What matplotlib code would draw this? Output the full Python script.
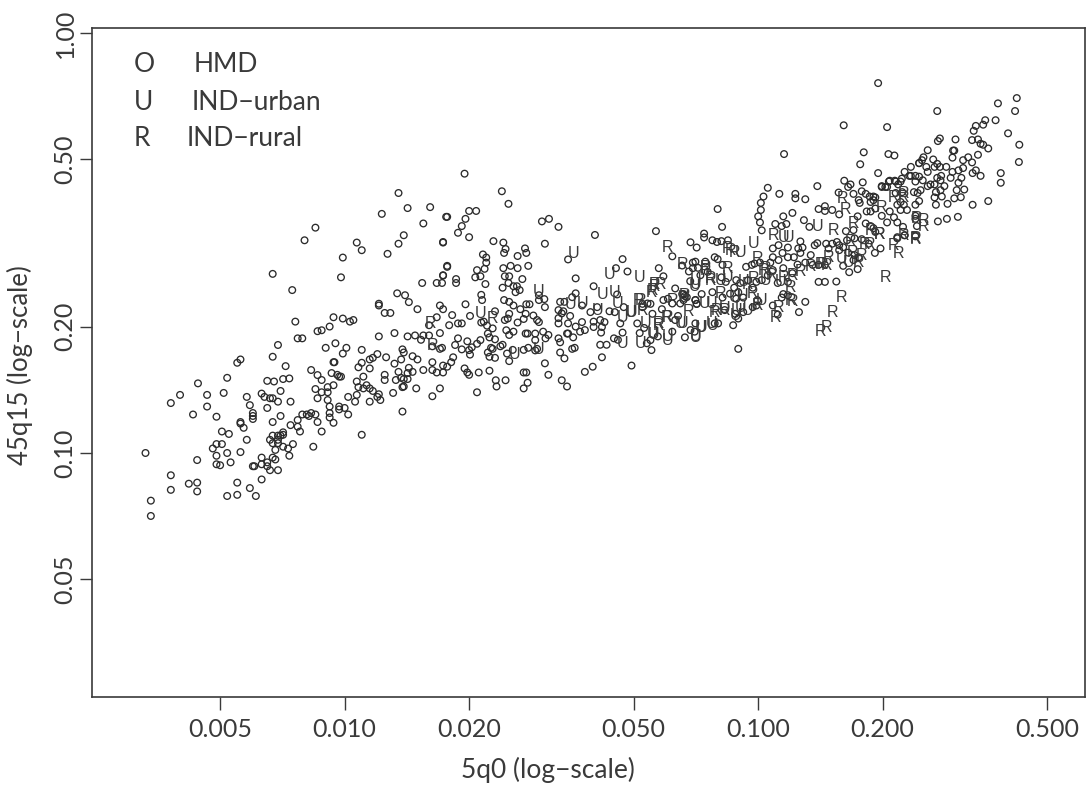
# 45q15 against 5q0, both on log scales
import matplotlib
matplotlib.use("Agg")
import matplotlib.pyplot as plt

# values as (5q0, 45q15)
hmd_low = [
    (.0135,.416),(.0142,.383),(.0123,.371),(.0161,.385),(.0176,.365),(.0155,.352),(.0085,.344),(.0080,.321),
    (.0173,.318),(.0173,.317),(.0139,.330),(.0135,.315),(.0107,.317),(.0110,.304),(.0127,.298),(.0099,.292),
    (.0067,.267),(.0098,.262),(.0177,.279),(.0173,.265),(.00747,.2443),(.0134,.240),(.0140,.2375),(.0143,.2287),
    (.0121,.2267),(.0121,.2245),(.0125,.2155),(.0129,.2155),(.0150,.220),(.0094,.2105),(.0099,.209),(.0103,.2055),
    (.0105,.2073),(.0076,.2055),(.0092,.200),(.0086,.195),(.0088,.196),(.0132,.193),(.0121,.1895),(.0142,.1895),
    (.0148,.1905),(.0077,.1875),(.0079,.1875),(.0069,.1808),(.0095,.1825),(.0090,.178),(.0101,.178),(.0110,.176),
    (.0099,.1725),(.0120,.172),(.0117,.1685),(.0115,.167),(.0138,.1765),(.0139,.1735),(.0126,.169),(.0146,.170),
    (.0150,.167),(.0132,.1632),(.0137,.167),(.0110,.164),(.0108,.160),(.0094,.1645),(.00945,.1645),(.0067,.1695),
    (.0056,.167),(.0055,.164),(.0072,.161),(.0083,.1576),(.0086,.1533),(.0088,.1492),(.0093,.155),(.0096,.1535),
    (.0097,.152),(.0098,.152),(.0115,.159),(.0111,.152),(.0125,.1535),(.0125,.1492),(.0135,.156),(.0143,.1595),
    (.0146,.156),(.0142,.155),(.0137,.151),(.0139,.150),(.0142,.150),(.0133,.1492),(.0052,.151),(.00442,.1465),
    (.0065,.1485),(.00675,.148),(.0071,.150),(.00735,.1505),(.0107,.148),(.0091,.1435),(.0094,.145),(.0070,.1405),
    (.0085,.142),(.0088,.1395),(.0091,.1395),(.0108,.1435),(.0111,.1425),(.0113,.145),(.0115,.1425),(.0117,.1405),
    (.0051,.139),(.00465,.1375),(.0040,.1375),(.0038,.1315),(.00465,.129),(.0043,.1235),(.0049,.122),(.0063,.1385),
    (.0058,.136),(.0064,.136),(.0066,.135),(.0067,.135),(.0069,.1325),(.0074,.1325),(.0059,.130),(.0065,.128),
    (.0060,.1245),(.0060,.1225),(.0060,.1205),(.0056,.1185),(.0056,.1175),(.0057,.1148),(.0067,.1185),(.0070,.1225),
    (.0079,.1235),(.0081,.1235),(.0082,.1225),(.0083,.1245),(.0085,.1235),(.0077,.1198),(.0074,.1165),(.0077,.1155),
    (.0078,.1125),(.0086,.1185),(.0088,.1125),(.0092,.1245),(.0092,.1215),(.0094,.118),(.0092,.129),(.0091,.1337),
    (.0086,.135),(.0097,.129),(.0097,.127),(.0100,.128),(.0102,.1235),(.0102,.136),(.0106,.1325),(.0107,.1375),
    (.0115,.1325),(.0122,.1337),(.0120,.136),(.0121,.138),(.0131,.139),(.0149,.1425),(.0138,.1255),(.0139,.144),
    (.0138,.1435),(.0110,.1105),(.0084,.1035),(.0075,.105),(.00735,.0985),(.0068,.1017),(.0071,.112),(.0071,.1105),
    (.0070,.110),(.0069,.110),(.0067,.110),(.0066,.1075),(.0067,.1055),(.0069,.1055),(.0069,.1075),(.0071,.1035),
    (.0073,.1025),(.0058,.1075),(.00505,.1125),(.00525,.111),(.0048,.1025),(.0049,.105),(.00505,.105),(.0049,.0985),
    (.0052,.100),(.0056,.1005),(.0044,.0962),(.0049,.094),(.0050,.0935),(.0053,.095),(.0063,.0975),(.0067,.0975),
    (.0068,.0965),(.0065,.095),(.0063,.094),(.0060,.093),(.00605,.093),(.0065,.093),(.0066,.091),(.0069,.091),
    (.0033,.100),(.0038,.0885),(.0038,.0817),(.0042,.0845),(.0044,.085),(.0044,.081),(.0055,.085),(.0059,.0825),
    (.0063,.0865),(.0052,.079),(.0055,.0795),(.0061,.079),(.0034,.077),(.0034,.0708),
]

hmd_mid = [
    (.0195,.4625),(.0240,.420),(.0249,.392),(.0177,.365),(.0200,.377),(.0208,.377),(.0196,.361),(.0192,.347),
    (.0188,.3345),(.0200,.3265),(.0300,.356),(.0312,.361),(.0329,.3455),(.0403,.3305),(.0566,.3375),(.0305,.315),
    (.0229,.3195),(.0242,.317),(.0245,.306),(.0243,.2995),(.0216,.297),(.0220,.292),(.0220,.284),(.0218,.2745),
    (.0273,.307),(.0275,.2995),(.0262,.2945),(.0347,.289),(.0242,.2755),(.0252,.279),(.0262,.2755),(.0278,.279),
    (.0177,.2775),(.0173,.2645),(.0209,.2725),(.0213,.2635),(.0207,.262),(.0219,.2525),(.0186,.2595),(.0186,.254),
    (.0154,.254),(.0167,.254),(.0172,.254),(.0244,.2635),(.0250,.2635),(.0269,.2595),(.0249,.254),(.0256,.2495),
    (.0261,.2495),(.0265,.2443),(.0259,.2415),(.0241,.2475),(.0214,.238),(.0215,.2313),(.0243,.2313),(.0250,.229),
    (.0256,.2245),(.0275,.226),(.0280,.226),(.0196,.226),(.0170,.2245),(.0173,.220),(.0305,.2225),(.0295,.2375),
    (.0304,.2325),(.0295,.2313),(.0362,.2605),(.0362,.240),(.0355,.235),(.0400,.2495),(.0453,.2755),(.0470,.2895),
    (.0483,.2705),(.0575,.2755),(.0620,.294),(.0590,.2635),(.0686,.3175),(.0710,.3085),(.0332,.229),(.0340,.229),
    (.0329,.2189),(.0338,.2175),(.0335,.215),(.0329,.2095),(.0351,.212),(.0347,.2035),(.0329,.2035),(.0456,.2385),
    (.0375,.2245),(.0393,.2165),(.0408,.2225),(.0437,.2175),(.0450,.2165),(.0473,.2225),(.0274,.2145),(.0266,.220),
    (.0286,.2125),(.0292,.2073),(.0295,.205),(.0262,.2045),(.0271,.2085),(.0250,.2145),(.0248,.209),(.0244,.2073),
    (.0231,.2175),(.0217,.2055),(.0214,.2045),(.0221,.201),(.0228,.198),(.0182,.213),(.0201,.212),(.0167,.2105),
    (.0179,.2015),(.0188,.2035),(.0192,.2035),(.0160,.2015),(.0170,.193),(.0155,.1905),(.0153,.186),(.0160,.1905),
    (.0163,.1795),(.0170,.177),(.0172,.178),(.0188,.1875),(.0185,.1808),(.0192,.1765),(.0198,.1845),(.0200,.1758),
    (.0203,.1785),(.0201,.1715),(.0213,.1857),(.0209,.182),(.0222,.1925),(.0224,.1885),(.0231,.1865),(.0241,.181),
    (.0238,.1795),(.0226,.178),(.0228,.177),(.0246,.196),(.0256,.1945),(.0250,.191),(.0255,.176),(.0247,.1725),
    (.0250,.1655),(.0222,.1735),(.0224,.1695),(.0231,.1685),(.0277,.1925),(.0274,.1925),(.0289,.1925),(.0302,.1945),
    (.0311,.191),(.0306,.1875),(.0278,.178),(.0271,.176),(.0289,.1857),(.0292,.177),(.0289,.1755),(.0329,.1875),
    (.0332,.1835),(.0332,.1735),(.0340,.168),(.0345,.1925),(.0347,.1925),(.0355,.177),(.0360,.178),(.0357,.1885),
    (.0371,.1945),(.0381,.1962),(.0362,.2),(.0375,.205),(.0400,.2055),(.0400,.1995),(.0415,.2073),(.0419,.1995),
    (.0417,.1935),(.0425,.205),(.0415,.181),(.0430,.181),(.0448,.1875),(.0458,.186),(.0419,.169),(.0398,.1605),
    (.0381,.156),(.0494,.1615),(.0305,.1635),(.0311,.1535),(.0335,.149),(.0345,.144),(.0271,.1555),(.0275,.1555),
    (.0277,.147),(.0271,.1425),(.0211,.1555),(.0224,.157),(.0232,.149),(.0245,.149),(.0233,.144),(.0195,.159),
    (.0198,.1555),(.0200,.1535),(.0155,.1576),(.0163,.1576),(.0167,.1555),(.0173,.1555),(.0163,.1645),(.0173,.1615),
    (.0177,.1605),(.0181,.1645),(.0183,.169),(.0170,.1425),(.0209,.1395),(.0163,.1365),(.0517,.193),(.0549,.1857),
    (.0572,.1895),(.0620,.1945),(.0665,.1885),(.0686,.1962),(.0705,.2035),(.0702,.1945),(.0552,.1758),(.0538,.1825),
    (.0464,.2035),(.0470,.1935),(.0510,.2035),(.0530,.1985),(.0630,.2073),(.0640,.212),(.0585,.220),(.0525,.2225),
    (.0540,.227),(.0555,.2145),(.0590,.2313),(.0605,.233),(.0630,.2465),(.0660,.239),(.0672,.235),(.0705,.2313),
    (.0710,.2265),(.0525,.2265),(.0549,.2265),(.0620,.227),(.0648,.227),(.0655,.2795),(.0695,.284),(.0705,.2855),
    (.0680,.2705),(.0685,.2565),(.0715,.276),
]

hmd_high = [
    (.1155,.515),(.180,.520),(.2065,.515),(.2135,.511),(.1765,.487),(.195,.464),(.234,.480),(.226,.467),
    (.234,.457),(.245,.490),(.1390,.432),(.1615,.445),(.1672,.436),(.165,.430),(.1565,.417),(.179,.441),
    (.170,.414),(.178,.420),(.182,.414),(.175,.400),(.176,.394),(.199,.432),(.205,.430),(.208,.445),
    (.214,.445),(.218,.436),(.192,.406),(.190,.400),(.187,.396),(.183,.376),(.187,.376),(.1055,.428),
    (.1030,.408),(.1015,.394),(.1125,.414),(.123,.414),(.123,.404),(.130,.402),(.0798,.381),(.0818,.3455),
    (.0740,.333),(.0740,.326),(.0775,.321),(.0795,.318),(.0815,.3195),(.0845,.321),(.1015,.379),(.100,.366),
    (.101,.354),(.102,.339),(.121,.373),(.115,.366),(.110,.351),(.117,.351),(.114,.347),(.129,.3585),
    (.133,.3455),(.140,.381),(.145,.387),(.145,.377),(.151,.379),(.157,.370),(.174,.366),(.163,.3375),
    (.170,.3395),(.182,.352),(.187,.347),(.190,.343),(.192,.336),(.205,.354),(.199,.367),(.208,.376),
    (.217,.354),(.224,.3455),(.217,.3245),(.226,.330),(.1976,.307),(.1915,.2995),(.178,.323),(.185,.315),
    (.1605,.279),(.166,.2695),(.174,.274),(.1265,.319),(.140,.2555),(.145,.2555),(.1545,.256),(.130,.229),
    (.1255,.2165),(.0895,.177),(.137,.3125),(.139,.316),(.146,.315),(.155,.318),(.157,.3125),(.1605,.309),
    (.148,.307),(.157,.3041),(.1085,.307),(.112,.3125),(.118,.3085),(.125,.307),(.128,.3085),(.1265,.2995),
    (.122,.2925),(.134,.296),(.1145,.2995),(.1085,.2925),(.107,.284),(.112,.288),(.118,.2925),(.0935,.2775),
    (.0965,.2805),(.098,.2825),(.101,.284),(.0785,.2925),(.0798,.2895),(.082,.2805),(.0745,.2855),(.1085,.2245),
    (.1115,.2135),(.115,.239),(.118,.2375),(.114,.2345),(.0995,.2313),(.097,.2225),(.099,.2245),(.073,.239),
    (.0705,.2313),(.071,.2265),(.0665,.2365),(.0655,.239),(.066,.2313),(.087,.2015),(.0895,.209),(.088,.2145),
    (.083,.2189),(.0785,.2035),(.080,.2035),(.092,.2165),(.0885,.258),(.0905,.254),(.0875,.2475),(.0895,.2415),
    (.092,.2345),(.0885,.233),(.0855,.2395),(.0835,.2555),(.0815,.262),(.082,.2345),(.0775,.2415),(.0945,.258),
    (.097,.2475),(.099,.2555),(.102,.258),(.1055,.265),(.1085,.2726),(.115,.2755),(.121,.268),(.118,.2555),
    (.1115,.254),(.1245,.281),(.130,.284),(.1355,.2805),(.140,.2805),(.145,.2805),(.0725,.265),(.0695,.2755),
    (.0755,.27),(.165,.3),(.171,.296),(.170,.288),(.175,.2925),(.151,.315),(.164,.321),(.171,.3245),
    (.195,.760),(.422,.700),(.380,.680),(.418,.652),(.271,.652),(.161,.603),(.205,.597),(.375,.620),
    (.354,.620),(.350,.605),(.336,.601),(.332,.585),(.402,.577),(.428,.542),(.427,.493),(.300,.558),
    (.275,.561),(.272,.553),(.329,.556),(.340,.558),(.345,.545),(.350,.542),(.360,.531),(.257,.526),
    (.296,.525),(.298,.525),(.295,.505),(.340,.513),(.322,.506),(.329,.492),(.313,.498),(.251,.506),
    (.249,.498),(.245,.490),(.265,.500),(.271,.488),(.2225,.450),(.386,.464),(.386,.440),(.345,.457),
    (.336,.471),(.330,.464),(.313,.477),(.295,.467),(.305,.471),(.285,.480),(.275,.480),(.267,.480),
    (.255,.480),(.257,.467),(.240,.457),(.245,.455),(.277,.457),(.271,.452),(.276,.446),(.267,.436),
    (.261,.436),(.257,.432),(.250,.446),(.292,.452),(.310,.452),(.315,.424),(.305,.440),(.302,.4225),
    (.282,.432),(.309,.4065),(.298,.404),(.287,.392),(.269,.390),(.278,.408),(.267,.406),(.276,.4225),
    (.269,.418),(.360,.398),(.330,.390),(.304,.365),(.286,.361),(.272,.356),(.247,.4225),(.238,.418),
    (.245,.398),(.240,.390),(.229,.379),(.240,.443),(.243,.416),(.221,.443),(.215,.443),(.207,.443),
    (.199,.430),(.203,.430),(.232,.457),(.215,.416),(.223,.418),(.221,.396),(.225,.390),(.221,.379),
    (.217,.390),(.190,.408),(.186,.408),(.213,.364),(.192,.382),(.217,.3265),(.226,.330),(.240,.328),
    (.240,.367),(.240,.361),(.242,.347),
]

rural_points = [
    (.0161,.2035),(.0163,.180),(.0228,.209),(.0605,.3085),(.0655,.281),(.0560,.2495),(.0575,.2035),(.0680,.2175),
    (.0600,.2105),(.0519,.2313),(.0553,.2415),(.160,.404),(.163,.379),(.2035,.262),(.159,.2345),(.151,.2165),
    (.146,.1995),(.1415,.195),(.110,.2105),(.112,.2225),(.121,.2295),(.218,.298),(.212,.3125),(.240,.3245),
    (.196,.3315),(.181,.314),(.152,.339),(.109,.329),(.148,.2925),(.178,.2945),(.170,.352),(.1672,.318),
    (.169,.2995),(.0845,.307),(.0875,.2995),(.0995,.291),(.120,.2475),(.0767,.2605),(.0845,.2755),(.0795,.219),
    (.212,.406),(.225,.4155),(.199,.385),(.242,.362),(.225,.330),(.1265,.27),(.143,.2805),(.0745,.2726),
    (.094,.2525),(.104,.2755),(.225,.406),(.251,.3585),(.251,.3455),(.240,.322),(.187,.339),(.196,.332),
    (.186,.3135),(.175,.284),(.146,.279),(.0560,.2525),(.058,.2525),(.0745,.277),(.0767,.258),(.0515,.2313),
    (.0525,.2189),(.0555,.2443),(.062,.2313),(.0665,.2375),(.0785,.2165),(.0605,.2105),(.0575,.2015),(.081,.2395),
    (.083,.2189),(.0857,.3041),(.1415,.2805),(.134,.2775),(.103,.2726),(.108,.265),(.115,.262),(.121,.265),
    (.0975,.2605),(.097,.2395),(.120,.2313),(.0995,.2245),
]

urban_points = [
    (.0357,.298),(.0295,.243),(.0213,.2145),(.0258,.1715),(.0295,.1765),(.0377,.2265),(.0420,.2385),(.0450,.2415),
    (.0437,.2665),(.0517,.262),(.0470,.1825),(.0519,.1825),(.0560,.1915),(.0605,.1857),(.0705,.1895),(.0655,.2035),
    (.0535,.2035),(.0470,.2105),(.0495,.2165),(.0410,.2189),(.0351,.226),(.0700,.2495),(.0456,.227),(.0975,.315),
    (.139,.3455),(.115,.3265),(.0905,.2995),(.159,.291),(.165,.284),(.077,.2265),(.073,.1995),(.077,.2035),
    (.0705,.1885),(.0705,.2525),(.0905,.2225),(.0945,.2189),(.102,.2313),(.083,.2205),(.0845,.262),(.0705,.2575),
    (.0811,.258),(.0491,.2165),(.066,.2345),(.074,.227),(.0648,.2035),(.0725,.1995),(.0775,.2015),(.0605,.1895),
    (.0555,.1925),(.0875,.2345),(.0885,.2189),(.1185,.3265),(.1132,.2555),(.104,.258),(.092,.2555),(.0915,.2375),
    (.088,.2125),
]

x_ticks = [0.005, 0.01, 0.02, 0.05, 0.1, 0.2, 0.5]
x_tick_labels = ["0.005", "0.010", "0.020", "0.050", "0.100", "0.200", "0.500"]
y_ticks = [0.05, 0.1, 0.2, 0.5, 1.0]
y_tick_labels = ["0.05", "0.10", "0.20", "0.50", "1.00"]

W, H = 1086, 791
INK = "#3a3a3a"
plt.rcParams["font.family"] = ["Lato", "DejaVu Sans"]

fig = plt.figure(figsize=(W / 100, H / 100), dpi=100)
ax = fig.add_axes([92 / W, 1 - 697 / H, (1085 - 92) / W, (697 - 28) / H])
ax.set_xscale("log")
ax.set_yscale("log")

hmd_points = hmd_low + hmd_mid + hmd_high
ax.scatter([p[0] for p in hmd_points], [p[1] for p in hmd_points], s=23,
           facecolors="none", edgecolors="#2b2b2b", linewidths=0.95)

# the two Indian series are drawn as letters
for letter, points in (("U", urban_points), ("R", rural_points)):
    for px, py in points:
        ax.text(px, py, letter, ha="center", va="center", fontsize=11.5,
                family="Liberation Sans", color="#3a3a3a")

ax.set_xlim(0.00245, 0.617)
ax.set_ylim(0.02624, 1.028)
ax.set_xticks(x_ticks)
ax.set_xticklabels(x_tick_labels, fontsize=18, color=INK)
ax.set_yticks(y_ticks)
ax.set_yticklabels(y_tick_labels, fontsize=18, color=INK, rotation=90, va="center")
ax.minorticks_off()
ax.tick_params(axis="x", length=9, width=1.0, color=INK, pad=6)
ax.tick_params(axis="y", length=9, width=1.0, color=INK, pad=2)
for spine in ax.spines.values():
    spine.set_linewidth(1.2)
    spine.set_color(INK)

fig.text(548 / W, 1 - 770 / H, "5q0 (log\u2212scale)", ha="center", va="center", fontsize=19, color=INK)
fig.text(20 / W, 1 - 365 / H, "45q15 (log\u2212scale)", ha="center", va="center", rotation=90, fontsize=18.5, color=INK)

# key in the top left corner
for key, name, name_x, key_y in (("O", "HMD", 194, 65), ("U", "IND\u2212urban", 192, 102), ("R", "IND\u2212rural", 187, 139)):
    fig.text(134 / W, 1 - key_y / H, key, ha="left", va="center", fontsize=19, color=INK)
    fig.text(name_x / W, 1 - key_y / H, name, ha="left", va="center", fontsize=19, color=INK)

fig.savefig("out.png", dpi=100)
